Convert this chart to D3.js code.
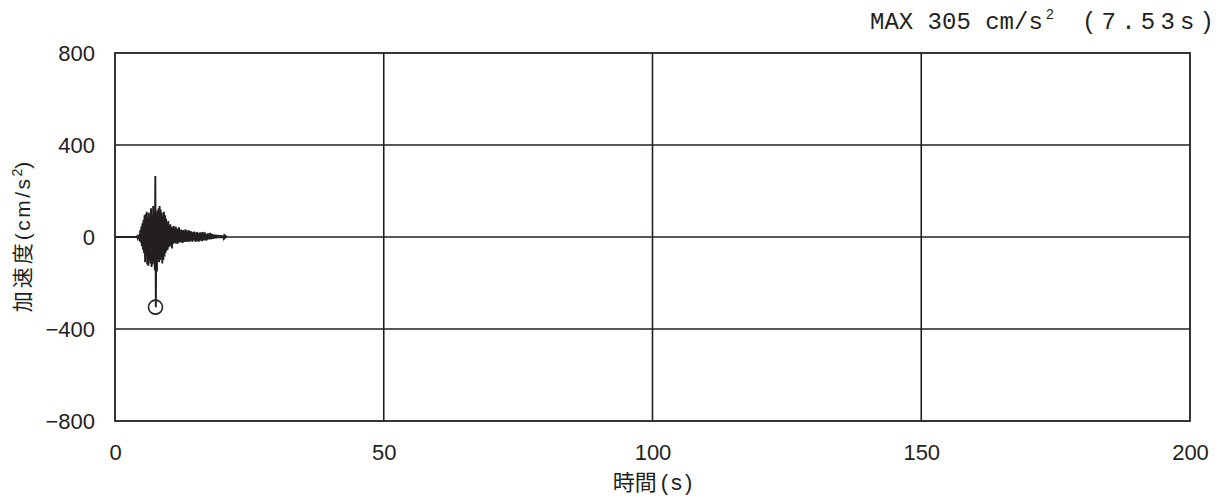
<!DOCTYPE html>
<html><head><meta charset="utf-8">
<script src="https://cdn.jsdelivr.net/npm/d3@7"></script>
<style>
body{margin:0;background:#fff;}
text{font-family:"Liberation Sans",Arial,sans-serif;fill:#231f20;}
.cjk{font-family:"Noto Sans CJK JP",sans-serif;}
.mono{font-family:"Liberation Mono","DejaVu Sans Mono",monospace;}
</style></head><body>
<svg id="c" width="1228" height="499"></svg>
<script>
const xTicks=[0,50,100,150,200];
const yTicks=[-800,-400,0,400,800];
const xDomain=[0,200];
const yDomain=[-800,800];
const t0=4.0, dt=0.1;
const accel=[0,3,-4,6,-8,10,
-18,30,-25,45,-40,
60,-55,75,-70,95,
-110,100,-85,110,-120,
80,-125,105,-100,90,
-115,125,-130,95,-120,
135,-110,120,-145,265,
-305,
100,-150,115,-95,125,
-110,135,-100,120,-90,
105,-115,90,-100,110,
-85,95,-70,80,-60,
60,-55,70,-45,50,
-40,55,-35,45,-50,
40,-30,48,-25,35,
-28,45,-22,38,-30,
30,-25,42,-20,28,
-24,32,-20,26,-26,
30,-18,25,-22,34,
-16,28,-20,24,-14,
30,-22,20,-18,26,
-15,22,-20,18,-14,
24,-16,20,-22,17,
-12,22,-18,15,-20,
18,-13,20,-16,14,
-18,22,-12,16,-15,
20,-10,14,-16,12,
-12,16,-9,14,-11,
18,-10,12,-8,14,
-8,10,-7,9,-6,
10,-6,8,-5,9,
-5,8,-4,7,-5,
8,-4,6,-3,7,
-3,5,-2,4,-1,
2,0];
const peakTime=7.53, peakValue=-305;
const maxLabel="MAX 305 cm/s", maxSup="2", maxTime="(7.53s)";

const svg=d3.select("#c");
const L=115,R=1190,T=53,B=421;
const x=d3.scaleLinear().domain(xDomain).range([L,R]);
const y=d3.scaleLinear().domain(yDomain).range([B,T]);
const col="#231f20";

svg.append("g").selectAll("line").data(xTicks.slice(1,-1)).join("line")
 .attr("x1",d=>x(d)).attr("x2",d=>x(d)).attr("y1",T).attr("y2",B)
 .attr("stroke",col).attr("stroke-width",1.6);
svg.append("g").selectAll("line").data(yTicks.slice(1,-1)).join("line")
 .attr("y1",d=>y(d)).attr("y2",d=>y(d)).attr("x1",L).attr("x2",R)
 .attr("stroke",col).attr("stroke-width",1.6);

const pts=accel.map((v,i)=>[t0+i*dt,v]);
pts.unshift([0,0]);
svg.append("path").datum(pts)
 .attr("d",d3.line().x(d=>x(d[0])).y(d=>y(d[1])))
 .attr("fill","none").attr("stroke",col).attr("stroke-width",1.9).attr("stroke-linejoin","miter");

svg.append("circle").attr("cx",x(peakTime)).attr("cy",y(peakValue)).attr("r",7)
 .attr("fill","none").attr("stroke",col).attr("stroke-width",1.6);

svg.append("rect").attr("x",L).attr("y",T).attr("width",R-L).attr("height",B-T)
 .attr("fill","none").attr("stroke",col).attr("stroke-width",1.8);

const xa=svg.append("g").attr("transform",`translate(0,${B})`)
 .call(d3.axisBottom(x).tickValues(xTicks).tickSize(0).tickPadding(23).tickFormat(d3.format("d")));
xa.select(".domain").remove();
xa.selectAll("text").attr("font-size",22).style("font-family",'"Liberation Sans",sans-serif').attr("fill",col);
const ya=svg.append("g").attr("transform",`translate(${L},0)`)
 .call(d3.axisLeft(y).tickValues(yTicks).tickSize(0).tickPadding(20).tickFormat(d=>d<0?"\u2212"+Math.abs(d):d));
ya.select(".domain").remove();
ya.selectAll("text").attr("font-size",22).style("font-family",'"Liberation Sans",sans-serif').attr("fill",col);

const xl=svg.append("text").attr("x",x(100)).attr("y",490).attr("text-anchor","middle").attr("font-size",22);
xl.append("tspan").attr("class","cjk").text("時間");
xl.append("tspan").attr("dx",4).text("(");
xl.append("tspan").attr("dx",3).text("s");
xl.append("tspan").attr("dx",3).text(")");

const yl=svg.append("text").attr("transform",`translate(30,${(T+B)/2}) rotate(-90)`)
 .attr("text-anchor","middle").attr("font-size",21);
yl.append("tspan").attr("class","cjk").attr("letter-spacing",3).text("加速度");
yl.append("tspan").attr("letter-spacing",2.5).text("(cm/s");
yl.append("tspan").attr("dy",-8).attr("font-size",14).text("2");
yl.append("tspan").attr("dy",8).text(")");

const mt=svg.append("g");
mt.append("text").attr("class","mono").attr("x",870).attr("y",29).attr("font-size",24).text(maxLabel);
mt.append("text").attr("x",1046).attr("y",19).attr("font-size",14).text(maxSup);
mt.append("text").attr("class","mono").attr("x",1082).attr("y",29).attr("font-size",24)
 .attr("textLength",132).attr("lengthAdjust","spacing").text(maxTime);
</script></body></html>
